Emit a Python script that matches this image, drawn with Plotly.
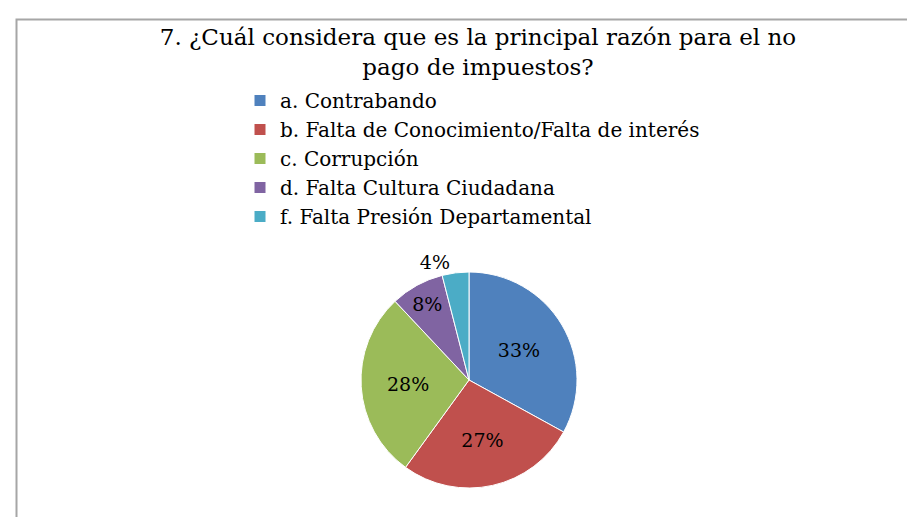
import plotly.graph_objects as go

title_text = "7. ¿Cuál considera que es la principal razón para el no<br>pago de impuestos?"
categories = [
    "a. Contrabando",
    "b. Falta de Conocimiento/Falta de interés",
    "c. Corrupción",
    "d. Falta Cultura Ciudadana",
    "f. Falta Presión Departamental",
]
values = [33, 27, 28, 8, 4]
colors = ["#4F81BD", "#C0504D", "#9BBB59", "#8064A2", "#4BACC6"]
text_positions = ["inside", "inside", "inside", "inside", "outside"]

W, H = 915, 517
serif = "DejaVu Serif"

fig = go.Figure(
    go.Pie(
        labels=categories,
        values=values,
        sort=False,
        direction="clockwise",
        rotation=0,
        marker=dict(colors=colors, line=dict(color="white", width=1)),
        texttemplate="%{percent:.0%}",
        textposition=text_positions,
        insidetextorientation="horizontal",
        textfont=dict(family=serif, size=19, color="black"),
        domain=dict(x=[(461 - 120) / W, (461 + 120) / W], y=[(517 - 480) / H, (517 - 264) / H]),
        hoverinfo="label+percent",
    )
)

fig.update_layout(
    width=W,
    height=H,
    margin=dict(l=0, r=0, t=0, b=0),
    paper_bgcolor="white",
    plot_bgcolor="white",
    title=dict(
        text=title_text,
        x=470 / W,
        xanchor="center",
        y=1 - 37 / H,
        yanchor="top",
        font=dict(family=serif, size=23, color="black"),
    ),
    legend=dict(
        x=232 / W,
        xanchor="left",
        y=1 - 73 / H,
        yanchor="top",
        font=dict(family=serif, size=20, color="black"),
        bgcolor="rgba(0,0,0,0)",
        itemclick=False,
    ),
    shapes=[
        dict(
            type="rect",
            xref="paper",
            yref="paper",
            x0=8.5 / W,
            x1=1.05,
            y0=-0.05,
            y1=1 - 11.5 / H,
            line=dict(color="#A6A6A6", width=2),
            layer="below",
        )
    ],
)

fig.write_html("out.html")
